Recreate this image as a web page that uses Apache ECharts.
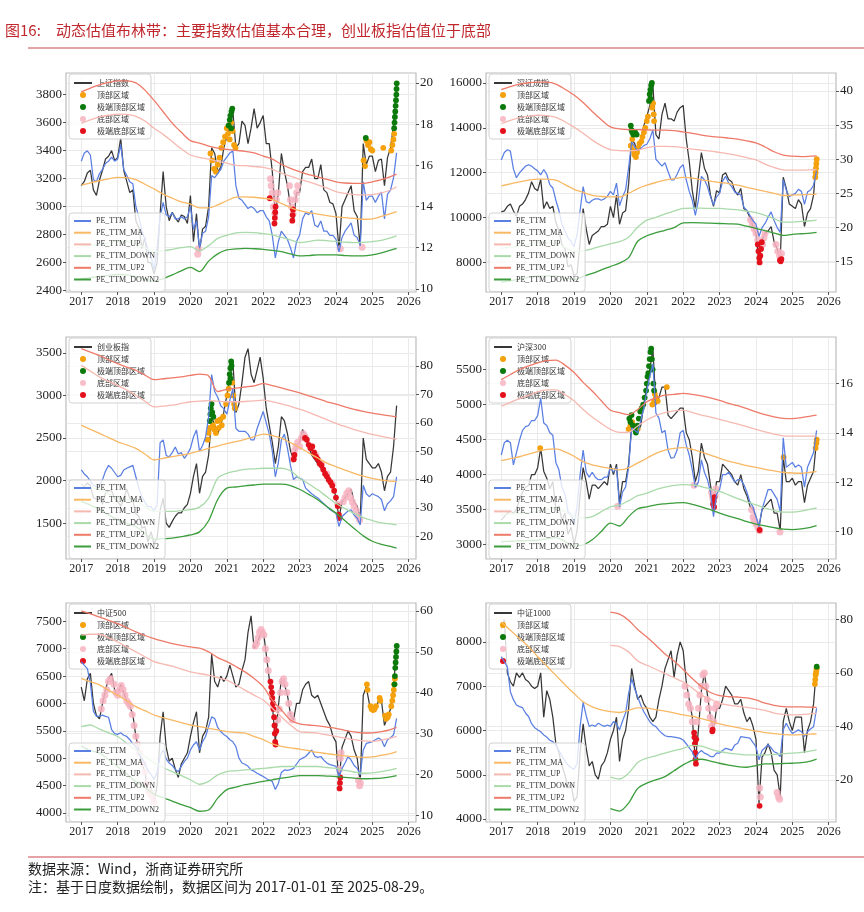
<!DOCTYPE html>
<html><head><meta charset="utf-8">
<script src="https://cdn.jsdelivr.net/npm/echarts@6/dist/echarts.min.js"></script>
<style>html,body{margin:0;padding:0;background:#fff}#c{width:864px;height:912px}</style>
</head><body><div id="c"></div><script>
// ---------- shared axes ----------
const yearTicks = [2017,2018,2019,2020,2021,2022,2023,2024,2025,2026];
const monthX = Array.from({length:105},(_,i)=>2017+i/12);   // monthly observation dates 2017-01 .. 2025-09
const bandX = [2017,2017.25,2017.5,2017.75,2018,2018.25,2018.5,2018.75,2019,2019.25,2019.5,2019.75,2020,2020.25,2020.5,2020.75,2021,2021.25,2021.5,2021.75,2022,2022.25,2022.5,2022.75,2023,2023.25,2023.5,2023.75,2024,2024.25,2024.5,2024.75,2025,2025.25,2025.5,2025.667];
const zoneNames = ['顶部区域','极端顶部区域','底部区域','极端底部区域'];
const bandNames = ['PE_TTM','PE_TTM_MA','PE_TTM_UP','PE_TTM_DOWN','PE_TTM_UP2','PE_TTM_DOWN2'];

// ---------- 上证指数 ----------
const sh_name = '上证指数';
const sh_price = [3150,3180,3240,3260,3120,3080,3190,3260,3340,3360,3400,3330,
 3350,3490,3260,3180,3100,3120,2900,2850,2700,2780,2600,2600,
 2520,2600,2950,3250,3000,2900,2960,2920,2890,2940,2930,2880,
 3080,2750,2950,2680,2840,2860,3000,3420,3380,3250,3280,3420,
 3500,3560,3680,3420,3450,3610,3580,3450,3560,3700,3560,3600,
 3650,3450,3450,3250,2950,3100,3380,3250,3150,3000,2900,3100,
 3100,3250,3280,3280,3340,3200,3200,3300,3120,3100,3030,3020,
 2950,2700,3000,3050,3100,3150,2970,2930,2720,3450,3300,3360,
 3360,3250,3330,3340,3150,3350,3420,3580,3860];
const sh_pe = [16.2,16.6,16.7,16.5,15.3,15.2,15.6,15.8,16.1,16.2,16.4,16.2,
 16.3,17.0,15.8,15.5,15.2,15.1,14.0,13.5,12.8,12.4,11.9,11.6,
 10.9,12.0,13.5,14.2,13.6,13.5,13.7,13.4,13.4,13.5,13.4,13.5,
 14.0,12.9,13.3,12.0,12.7,12.8,13.5,15.5,15.4,15.6,15.8,16.2,
 16.4,16.6,16.7,15.0,14.4,14.3,14.1,13.9,14.0,13.9,13.7,13.8,
 13.8,13.5,13.3,12.6,11.5,12.3,12.8,12.6,12.4,12.0,11.5,12.3,
 12.6,13.4,13.7,13.6,13.8,13.1,13.0,13.3,12.8,12.8,12.6,12.6,
 12.4,11.8,12.5,12.8,13.0,13.2,12.6,12.5,12.1,15.2,14.3,14.5,
 14.5,14.2,14.5,14.7,13.4,14.6,14.8,15.4,16.6];
const sh_up2 = [19.56,19.75,19.9,20.02,20.1,20.1,20.0,19.65,19.15,18.6,18.05,17.6,17.2,17.08,16.93,16.83,16.77,16.72,16.68,16.6,16.45,16.3,16.05,15.85,15.69,15.55,15.44,15.32,15.2,15.14,15.12,15.12,15.2,15.3,15.45,15.57];
const sh_up = [18.03,18.2,18.35,18.43,18.48,18.47,18.38,18.15,17.8,17.5,17.15,16.8,16.5,16.38,16.3,16.2,16.1,16.0,15.98,15.94,15.9,15.8,15.62,15.48,15.32,15.2,15.05,14.9,14.72,14.64,14.58,14.56,14.58,14.66,14.8,14.96];
const sh_ma = [15.04,15.15,15.25,15.34,15.41,15.4,15.3,15.08,14.85,14.6,14.4,14.22,14.12,13.93,13.93,14.08,14.28,14.45,14.47,14.45,14.4,14.33,14.15,13.95,13.8,13.7,13.63,13.56,13.5,13.46,13.42,13.38,13.4,13.52,13.65,13.75];
const sh_down = [12.1,12.12,12.15,12.22,12.3,12.3,12.2,12.0,11.8,11.85,11.92,12.0,12.05,11.85,12.1,12.45,12.6,12.72,12.74,12.73,12.68,12.62,12.5,12.38,12.25,12.3,12.37,12.34,12.3,12.27,12.25,12.26,12.3,12.36,12.48,12.57];
const sh_down2 = [10.5,10.55,10.6,10.66,10.7,10.68,10.6,10.48,10.38,10.5,10.68,10.88,11.05,10.84,11.35,11.7,11.89,11.94,11.97,11.95,11.92,11.87,11.81,11.7,11.6,11.62,11.65,11.65,11.65,11.62,11.6,11.6,11.65,11.75,11.88,11.97];
const sh_top = [[2020.55,3380],[2020.6,3330],[2020.65,3270],[2020.7,3250],[2020.75,3300],[2020.8,3350],[2020.85,3420],[2020.9,3460],[2020.95,3500],[2021.0,3560],[2021.03,3520],[2021.08,3480],[2021.12,3600],[2021.16,3540],[2021.2,3440],[2021.24,3420],[2024.76,3330],[2024.8,3290],[2024.84,3470],[2024.88,3440],[2024.92,3460],[2024.96,3410],[2025.0,3400],[2025.3,3420],[2025.52,3400],[2025.55,3440],[2025.58,3480],[2025.6,3520]];
const sh_xtop = [[2021.05,3580],[2021.08,3620],[2021.1,3650],[2021.13,3680],[2021.15,3700],[2021.12,3560],[2024.82,3490],[2025.6,3560],[2025.61,3600],[2025.62,3640],[2025.63,3680],[2025.64,3720],[2025.65,3760],[2025.66,3800],[2025.665,3840],[2025.67,3880]];
const sh_bot = [[2020.2,2660],[2020.22,2700],[2022.2,3200],[2022.22,3150],[2022.25,3100],[2022.28,3000],[2022.32,2950],[2022.36,3050],[2022.4,3100],[2022.72,3150],[2022.75,3050],[2022.78,3000],[2022.82,2950],[2022.88,3050],[2022.92,3100],[2022.95,3150],[2024.12,2700],[2024.72,2710]];
const sh_xbot = [[2022.18,3060],[2022.31,2880],[2022.32,2920],[2022.33,2960],[2022.34,3000],[2022.8,2900],[2022.81,2940],[2022.82,2980]];
const sh_lticks = [2400,2600,2800,3000,3200,3400,3600,3800];
const sh_rticks = [10,12,14,16,18,20];

// ---------- 深证成指 ----------
const sz_name = '深证成指';
const sz_price = [10250,10300,10500,10600,10300,10050,10500,10600,10800,11100,11600,11300,
 11200,11700,10400,10700,10400,10500,9800,9400,8800,8600,7800,7900,
 7400,7500,8900,10400,9500,8800,9200,9300,9400,9600,9600,9700,
 10500,10000,11000,9700,10200,10300,11500,13500,13300,12800,13400,14100,
 14500,15000,15900,13700,13500,14600,15100,14400,14400,14300,14700,14900,
 15000,13500,12500,11200,10400,11800,12900,12200,11900,11000,10500,11200,
 11100,11900,12000,11700,11600,11200,11000,11300,10400,10300,10000,9600,
 9300,8000,9000,9300,9400,9600,8900,8600,8100,11800,11300,10600,
 10500,10400,10800,10600,9600,10200,10400,11000,12700];
const sz_pe = [29.9,31.0,31.4,31.2,28.6,27.3,28.0,28.5,29.0,29.2,29.0,28.6,
 28.3,27.7,28.5,27.8,26.3,25.8,24.0,22.5,20.5,19.5,18.5,18.0,
 17.2,19.0,22.5,26.0,23.8,23.6,24.0,24.2,24.2,24.0,24.2,24.6,
 25.3,24.8,26.5,23.2,24.5,25.5,28.8,32.5,31.8,31.3,31.6,32.0,
 32.2,33.0,34.3,30.0,29.5,29.0,29.5,28.2,27.0,27.0,27.8,28.8,
 29.2,27.0,25.3,24.0,21.8,24.0,27.5,27.0,26.0,24.5,23.3,24.5,
 25.0,26.8,27.5,26.5,26.0,25.2,25.0,24.8,23.0,22.5,21.8,21.0,
 20.5,18.7,20.0,20.6,21.5,22.3,21.0,20.0,19.3,27.0,25.5,24.5,
 24.8,25.0,25.6,25.3,23.4,25.2,25.5,26.2,28.3];
const sz_up2 = [40.2,40.65,41.0,41.2,41.3,41.28,41.0,40.25,39.4,38.3,37.0,35.8,34.75,34.45,34.35,34.35,34.3,34.26,34.26,34.2,34.0,33.8,33.55,33.35,33.25,33.1,32.95,32.7,32.4,31.8,31.1,30.6,30.45,30.4,30.45,30.5];
const sz_up = [35.2,35.7,36.1,36.3,36.45,36.4,36.15,35.5,34.7,33.8,32.8,32.0,31.4,31.28,31.25,31.35,31.7,31.9,31.9,31.85,31.7,31.5,31.35,31.2,31.0,30.8,30.55,30.25,29.9,29.3,28.8,28.45,28.4,28.4,28.45,28.5];
const sz_ma = [26.1,26.4,26.7,26.95,27.1,27.08,26.95,26.3,25.6,25.15,24.7,24.55,24.5,24.5,25.0,25.7,26.2,26.6,26.95,27.15,27.35,27.25,27.0,26.8,26.6,26.45,26.2,25.9,25.6,25.3,25.0,24.7,24.75,24.8,24.85,24.9];
const sz_down = [17.0,17.1,17.3,17.6,17.75,17.78,17.75,17.1,16.5,16.6,16.9,17.3,17.6,17.95,18.6,20.1,21.1,21.5,22.0,22.4,22.8,22.85,22.85,22.8,22.8,22.7,22.6,22.4,22.2,21.8,21.3,20.8,20.8,20.9,21.0,21.1];
const sz_down2 = [12.0,12.2,12.45,12.7,12.9,12.92,12.9,12.65,12.4,12.85,13.3,13.8,14.3,14.8,15.6,18.0,18.8,19.25,19.6,20.0,20.7,20.72,20.7,20.65,20.6,20.55,20.5,20.2,19.9,19.55,19.2,18.85,19.0,19.1,19.2,19.3];
const sz_top = [[2020.56,13200],[2020.6,13500],[2020.63,13000],[2020.66,12800],[2020.7,12700],[2020.73,12900],[2020.76,13100],[2020.8,13300],[2020.85,13400],[2020.88,13600],[2020.92,13800],[2020.96,14000],[2021.0,14300],[2021.03,14500],[2021.15,14900],[2021.17,15100],[2021.19,14600],[2021.2,14300],[2025.63,11800],[2025.64,12000],[2025.65,12200],[2025.66,12400],[2025.67,12600]];
const sz_xtop = [[2020.56,14100],[2020.58,13900],[2020.6,13800],[2020.63,13700],[2020.68,13800],[2020.72,13700],[2021.06,15200],[2021.08,15500],[2021.1,15700],[2021.12,15900],[2021.14,16000],[2021.1,15300]];
const sz_bot = [[2023.85,9900],[2023.9,9700],[2023.95,9500],[2024.0,9300],[2024.05,9000],[2024.18,8800],[2024.22,9100],[2024.25,9300],[2024.55,8800],[2024.6,8500],[2024.65,8300],[2024.7,8400]];
const sz_xbot = [[2024.05,8800],[2024.07,8500],[2024.09,8200],[2024.1,8000],[2024.12,8300],[2024.14,8600],[2024.16,8900],[2024.66,8100],[2024.68,8050],[2024.7,8150]];
const sz_lticks = [8000,10000,12000,14000,16000];
const sz_rticks = [15,20,25,30,35,40];

// ---------- 创业板指 ----------
const cy_name = '创业板指';
const cy_price = [1960,1930,1970,1940,1800,1780,1810,1720,1850,1880,1880,1790,
 1760,1700,1780,1900,1790,1770,1610,1580,1440,1460,1280,1400,
 1260,1320,1650,1790,1500,1450,1520,1580,1620,1620,1680,1720,
 1850,2050,2200,1850,2050,2100,2300,2750,2650,2550,2650,2800,
 3000,3200,3400,2800,2900,3150,3450,3550,3250,3150,3300,3450,
 3200,2850,2650,2450,2200,2400,2750,2700,2550,2350,2250,2400,
 2450,2600,2500,2400,2300,2250,2200,2150,2100,2050,2000,1950,
 1800,1560,1750,1800,1850,1900,1750,1700,1550,2500,2250,2200,
 2150,2150,2200,2100,1880,2050,2100,2400,2880];
const cy_pe = [43.4,42.0,41.0,39.5,38.0,37.5,38.0,40.0,43.0,45.0,44.0,42.5,
 41.0,41.5,43.4,44.0,44.5,45.0,41.0,37.0,34.0,32.0,30.5,30.5,
 29.0,31.0,53.0,54.0,48.5,48.0,49.5,51.5,49.0,49.5,47.5,49.0,
 51.0,55.0,57.5,50.0,52.0,55.0,62.0,77.0,71.0,69.0,66.0,65.0,
 63.0,68.0,72.0,58.0,57.0,57.0,57.0,56.0,54.0,54.0,58.0,61.0,
 64.0,60.0,56.0,50.0,41.0,46.0,54.0,56.0,51.0,45.0,40.0,41.0,
 40.5,40.0,37.0,36.0,35.0,34.2,33.5,32.5,31.5,30.5,29.5,28.8,
 28.2,23.5,27.0,28.0,29.0,29.4,27.5,26.5,24.0,38.0,35.0,34.0,
 35.0,34.5,34.0,33.0,29.0,31.5,32.5,34.0,41.0];
const cy_up2 = [86.1,84.9,83.7,82.2,80.8,79.6,78.5,76.8,75.2,75.5,75.8,76.2,76.7,77.1,76.5,71.0,71.8,72.2,72.6,73.0,73.8,73.1,72.3,71.4,70.5,69.5,68.5,67.4,66.55,65.6,64.7,64.0,63.4,62.9,62.4,62.1];
const cy_up = [80.2,78.2,76.1,74.6,73.2,71.5,69.7,67.6,65.6,65.9,66.2,66.8,67.4,67.6,67.8,67.6,67.4,67.4,67.5,67.7,68.0,67.4,66.7,65.8,64.8,63.7,62.4,61.1,59.8,58.7,57.6,56.7,55.9,55.2,54.6,54.2];
const cy_ma = [59.2,57.7,56.3,54.8,53.3,52.2,51.0,49.0,46.9,47.5,48.1,48.6,49.2,50.1,51.0,51.8,52.7,53.4,54.2,55.1,56.0,55.5,54.6,53.0,51.3,49.4,47.6,45.8,44.6,43.3,42.2,41.2,40.4,39.8,39.5,39.3];
const cy_down = [38.2,37.3,36.5,35.0,33.4,33.0,32.3,30.5,28.8,28.8,28.8,29.1,29.4,30.3,33.5,40.5,42.2,43.0,43.6,43.8,44.0,44.0,44.0,43.1,40.5,38.5,36.4,34.0,31.7,29.8,28.1,26.6,25.6,24.8,24.4,24.1];
const cy_down2 = [32.3,31.0,29.5,27.6,25.8,24.6,23.5,21.0,19.0,19.2,19.4,19.9,20.5,21.6,25.5,33.0,37.0,37.4,37.8,38.1,38.4,38.4,38.4,37.9,36.6,34.8,32.9,30.5,28.2,25.5,22.8,20.2,18.3,17.2,16.5,15.9];
const cy_top = [[2020.47,2480],[2020.5,2560],[2020.53,2620],[2020.62,2650],[2020.66,2600],[2020.7,2560],[2020.74,2700],[2020.78,2620],[2020.82,2720],[2020.86,2650],[2020.9,2750],[2020.98,2900],[2021.02,3000],[2021.05,3080],[2021.15,3150],[2021.18,3000],[2021.2,2900],[2021.22,2850]];
const cy_xtop = [[2020.53,2700],[2020.55,2780],[2020.56,2850],[2020.58,2900],[2020.6,2800],[2020.63,2750],[2021.06,3150],[2021.08,3250],[2021.1,3320],[2021.12,3400],[2021.1,3200],[2021.13,3350]];
const cy_bot = [[2022.82,2250],[2022.86,2350],[2022.9,2400],[2022.95,2450],[2023.0,2400],[2023.05,2500],[2023.1,2550],[2023.15,2520],[2023.3,2400],[2023.45,2300],[2023.6,2200],[2023.75,2080],[2023.9,1960],[2024.05,1720],[2024.2,1750],[2024.25,1800],[2024.3,1850],[2024.35,1880],[2024.4,1800],[2024.45,1750],[2024.5,1700],[2024.55,1650],[2024.6,1580],[2024.65,1540]];
const cy_xbot = [[2022.84,2250],[2022.86,2300],[2023.15,2500],[2023.2,2480],[2023.25,2420],[2023.3,2380],[2023.35,2400],[2023.4,2330],[2023.45,2280],[2023.5,2250],[2023.55,2200],[2023.6,2180],[2023.65,2130],[2023.7,2080],[2023.75,2050],[2023.8,2010],[2023.85,1980],[2023.9,1940],[2023.95,1880],[2024.0,1800],[2024.05,1700],[2024.08,1600],[2024.1,1560]];
const cy_lticks = [1500,2000,2500,3000,3500];
const cy_rticks = [20,30,40,50,60,70,80];

// ---------- 沪深300 ----------
const hs_name = '沪深300';
const hs_price = [3350,3400,3450,3480,3450,3500,3650,3750,3820,3850,4000,4000,
 4100,4380,4050,3950,3800,3900,3500,3550,3350,3450,3150,3250,
 3000,3200,3700,4100,3900,3650,3850,3850,3800,3850,3900,3850,
 4150,4000,4150,3600,3900,3900,4150,4700,4700,4600,4700,5000,
 5250,5500,5800,5000,5100,5250,5250,4850,4800,4850,4900,4950,
 4950,4600,4500,4250,3900,4050,4450,4250,4150,3850,3600,3900,
 3900,4150,4100,4050,4000,3900,3850,4000,3800,3700,3550,3500,
 3400,3250,3500,3550,3600,3650,3450,3450,3200,4250,3900,3900,
 3950,3850,3900,3900,3600,3850,3950,4050,4500];
const hs_pe = [13.1,13.6,13.7,13.6,12.7,13.2,13.7,14.1,14.25,14.3,14.5,14.5,
 14.7,15.4,14.4,14.3,14.0,13.9,12.8,12.5,11.8,11.5,10.8,10.7,
 10.3,11.0,12.3,13.3,12.4,12.2,12.4,12.2,12.1,12.1,12.2,12.2,
 12.6,12.4,12.6,11.0,11.6,11.8,12.6,14.2,14.1,14.0,14.5,15.0,
 15.7,16.3,16.8,14.8,14.6,14.0,14.1,13.3,12.97,13.0,13.3,14.0,
 14.1,13.5,13.1,12.5,11.8,12.0,12.9,12.4,12.1,11.6,10.6,11.5,
 11.7,12.3,12.3,12.4,12.2,12.0,12.1,12.1,11.9,11.6,11.2,11.0,
 10.6,10.2,10.9,11.3,11.7,11.7,11.5,11.3,10.8,13.8,12.6,12.7,
 12.8,12.6,12.7,12.6,11.8,12.6,12.9,13.2,14.1];
const hs_up2 = [16.16,16.37,16.57,16.72,16.84,16.93,16.95,16.75,16.45,16.05,15.7,15.3,14.92,14.82,14.74,14.95,15.26,15.42,15.53,15.56,15.6,15.56,15.5,15.42,15.32,15.2,15.1,14.98,14.85,14.74,14.65,14.59,14.58,14.62,14.68,14.72];
const hs_up = [15.08,15.24,15.39,15.52,15.66,15.74,15.74,15.55,15.3,14.95,14.64,14.38,14.14,14.02,14.03,14.28,14.52,14.7,14.82,14.89,14.92,14.82,14.72,14.64,14.55,14.45,14.35,14.25,14.14,14.04,13.95,13.88,13.87,13.87,13.87,13.87];
const hs_ma = [12.87,12.95,13.03,13.14,13.24,13.33,13.35,13.23,13.05,12.83,12.7,12.62,12.56,12.5,12.58,12.78,12.97,13.17,13.3,13.37,13.4,13.33,13.22,13.1,12.97,12.85,12.76,12.67,12.6,12.52,12.46,12.4,12.37,12.36,12.4,12.43];
const hs_down = [10.66,10.7,10.72,10.77,10.82,10.9,10.95,10.8,10.6,10.55,10.6,10.8,11.0,11.07,11.25,11.45,11.55,11.7,11.8,11.87,11.9,11.89,11.82,11.72,11.62,11.48,11.33,11.2,11.08,10.95,10.85,10.78,10.78,10.82,10.9,10.95];
const hs_down2 = [9.58,9.6,9.62,9.63,9.64,9.7,9.75,9.6,9.4,9.45,9.66,10.0,10.34,10.22,10.6,10.92,11.0,11.08,11.12,11.15,11.17,11.1,11.0,10.88,10.74,10.62,10.52,10.4,10.3,10.22,10.15,10.09,10.07,10.1,10.16,10.23];
const hs_top = [[2018.07,4380],[2020.5,4650],[2020.55,4700],[2020.6,4750],[2020.75,4650],[2021.15,5000],[2021.2,5050],[2021.22,5150],[2021.25,5100],[2021.3,5050],[2021.55,5250],[2024.76,4250],[2025.64,4380],[2025.66,4450],[2025.67,4500]];
const hs_xtop = [[2020.52,4800],[2020.55,4750],[2020.58,4850],[2020.62,4700],[2020.66,4650],[2020.7,4600],[2020.74,4700],[2020.78,4800],[2020.82,4900],[2020.86,4950],[2020.9,5000],[2020.94,5100],[2020.98,5200],[2021.0,5300],[2021.02,5400],[2021.04,5450],[2021.06,5550],[2021.08,5650],[2021.1,5750],[2021.12,5800],[2021.14,5650],[2021.16,5500],[2021.18,5300],[2021.2,5200]];
const hs_bot = [[2020.2,3550],[2022.3,3850],[2022.78,3750],[2022.8,3700],[2022.82,3650],[2022.88,3700],[2022.9,3800],[2023.88,3500],[2023.92,3400],[2023.95,3350],[2024.0,3300],[2024.05,3250],[2024.1,3200],[2024.66,3180]];
const hs_xbot = [[2022.82,3580],[2022.84,3620],[2022.86,3680],[2022.85,3540],[2024.1,3210]];
const hs_lticks = [3000,3500,4000,4500,5000,5500];
const hs_rticks = [10,12,14,16];

// ---------- 中证500 ----------
const z5_name = '中证500';
const z5_price = [6300,6050,6450,6550,6000,5780,5720,6000,6250,6450,6550,6250,
 6150,6350,6200,6050,5950,5800,5400,5150,4900,4750,4350,4450,
 4200,4500,5400,5850,5200,4950,5000,4800,4650,4900,5000,5100,
 5400,5650,5850,5100,5400,5500,5750,6900,6400,6300,6500,6400,
 6500,6700,6500,6300,6350,6600,6800,7300,7600,7000,7100,7250,
 7350,6900,6450,6000,5300,5950,6450,6350,6150,5800,5700,6000,
 6000,6250,6350,6400,6150,6100,6150,6000,5850,5700,5600,5400,
 5300,4550,5200,5350,5500,5400,5150,5000,4550,6150,6300,6000,
 5900,5850,6050,6050,5600,5750,5900,6300,7050];
const z5_pe = [47.6,46.7,45.9,42.3,35.5,34.2,34.2,34.5,34.2,34.0,31.0,30.0,
 29.8,30.2,29.6,29.3,28.5,27.5,26.8,25.0,24.0,22.5,21.0,20.0,
 18.8,20.5,24.5,26.0,23.8,22.8,22.2,21.2,20.7,22.0,23.2,24.0,
 26.0,27.2,28.0,26.0,28.0,29.3,31.7,34.1,33.7,31.5,30.5,29.8,
 29.3,28.5,28.0,26.8,24.0,22.8,22.5,22.0,21.1,20.8,20.3,19.9,
 19.5,19.0,18.6,18.3,16.3,17.8,20.5,21.1,21.0,21.2,21.5,22.5,
 23.6,24.0,24.4,25.2,26.0,24.5,24.2,24.4,23.5,22.8,22.4,22.2,
 22.0,19.5,21.5,22.8,24.4,23.5,22.2,21.5,19.9,26.0,27.6,27.8,
 28.0,28.5,28.9,28.5,26.8,28.5,29.0,29.7,33.7];
const z5_up2 = [60.0,59.3,58.5,57.7,56.9,55.9,54.9,54.0,53.25,52.6,52.0,51.6,51.2,50.9,50.0,48.6,47.6,46.4,45.1,43.5,41.5,38.2,35.8,33.3,32.35,32.1,31.9,31.6,31.3,30.8,30.4,30.15,30.2,30.5,31.0,31.5];
const z5_up = [54.1,54.3,54.3,53.4,52.4,51.2,50.0,48.8,47.6,47.0,46.5,45.8,45.1,44.7,44.3,43.7,43.1,41.9,40.65,39.4,38.2,36.2,34.1,32.1,30.5,30.3,30.1,29.7,29.3,28.9,28.5,28.2,28.1,28.4,28.9,29.3];
const z5_ma = [43.5,42.7,41.9,40.6,39.4,38.0,36.6,35.6,34.55,33.9,33.3,32.7,32.1,31.7,31.3,30.9,30.5,30.3,30.1,29.3,28.5,27.5,26.9,26.5,26.2,25.8,25.4,25.1,24.8,24.55,24.35,24.2,24.3,24.7,25.1,25.6];
const z5_down = [31.7,32.1,31.1,30.2,29.3,27.6,26.0,24.4,22.8,21.7,20.7,19.7,18.7,17.6,18.3,19.9,20.7,20.9,21.1,21.3,21.5,21.7,21.95,21.95,21.95,21.95,21.95,21.7,21.5,21.0,20.6,20.3,20.4,20.7,21.1,21.5];
const z5_down2 = [27.0,25.8,25.3,23.6,21.9,20.1,18.3,16.8,15.2,14.3,13.5,12.6,11.9,11.0,11.3,14.2,16.3,16.9,17.5,17.9,18.3,18.7,19.1,19.4,19.7,19.7,19.7,19.6,19.5,19.3,19.1,18.95,19.0,19.1,19.4,19.7];
const z5_top = [[2024.85,6350],[2024.87,6250],[2024.95,5950],[2024.98,5900],[2025.02,5880],[2025.06,5900],[2025.1,5950],[2025.2,6100],[2025.22,6050],[2025.35,5780],[2025.38,5720],[2025.42,5750],[2025.45,5800],[2025.52,5950],[2025.55,6050],[2025.57,6150],[2025.59,6250],[2025.6,6350],[2025.62,6450]];
const z5_xtop = [[2025.61,6350],[2025.62,6500],[2025.63,6650],[2025.64,6750],[2025.65,6850],[2025.66,6950],[2025.67,7050]];
const z5_bot = [[2017.55,5900],[2017.6,6050],[2017.65,6150],[2017.7,6250],[2017.75,6400],[2017.8,6450],[2017.9,6350],[2017.95,6200],[2018.0,6150],[2018.05,6250],[2018.1,6330],[2018.15,6250],[2018.2,6150],[2018.25,6050],[2018.3,6000],[2018.35,5950],[2018.4,5800],[2018.45,5600],[2018.5,5400],[2018.55,5250],[2018.6,5100],[2018.7,4900],[2018.75,4750],[2018.8,4550],[2018.85,4400],[2018.9,4350],[2018.95,4300],[2019.0,4200],[2021.78,7050],[2021.82,7100],[2021.86,7200],[2021.9,7300],[2021.94,7350],[2021.98,7300],[2022.02,7250],[2022.06,7000],[2022.1,6800],[2022.14,6600],[2022.4,5700],[2022.44,5900],[2022.48,6200],[2022.52,6400],[2022.56,6450],[2022.6,6350],[2022.65,6200],[2022.7,6000],[2022.75,5800],[2022.8,5700],[2024.1,4800],[2024.12,5000],[2024.14,5100],[2024.62,4600],[2024.65,4500],[2024.67,4550]];
const z5_xbot = [[2022.2,6400],[2022.22,6300],[2022.24,6200],[2022.25,6100],[2022.27,6000],[2022.28,5900],[2022.3,5750],[2022.31,5600],[2022.32,5450],[2022.33,5300],[2022.34,5250],[2022.36,5500],[2024.1,4450],[2024.11,4550],[2024.12,4650]];
const z5_lticks = [4000,4500,5000,5500,6000,6500,7000,7500];
const z5_rticks = [10,20,30,40,50,60];

// ---------- 中证1000 ----------
const z1_name = '中证1000';
const z1_price = [8300,8500,7300,7100,7000,7300,7200,7300,7150,7100,7000,6950,
 7000,7300,6300,6900,6700,6300,5700,5500,5200,5000,4700,4800,
 4400,4500,5500,6150,5600,5200,5300,5000,4900,5200,5300,5500,
 5800,6000,6300,5300,5800,6000,6500,7400,7000,6700,6800,6600,
 6500,6300,6200,6300,6700,7000,7400,7600,7800,7200,7700,8000,
 7800,7100,6700,6300,5300,6000,6900,7300,6800,6300,6000,6500,
 6500,6700,7000,6900,6800,6600,6600,6700,6400,6200,6300,6100,
 5800,4350,5400,5500,5700,5500,5100,5000,4500,6200,6500,6200,
 6000,6300,6300,6300,5500,6000,6200,6600,7450];
const z1_pe = [66.1,64.2,62.3,53.0,50.0,48.0,47.4,47.0,45.0,43.7,41.0,39.5,
 38.7,38.0,36.8,36.0,34.8,34.3,33.0,31.0,29.0,27.0,25.5,24.5,
 24.0,26.0,40.0,49.0,44.0,40.0,40.5,40.0,41.2,40.5,40.0,40.5,
 40.0,41.8,41.0,38.7,42.0,45.0,52.4,58.0,54.0,51.0,48.0,45.5,
 43.6,41.8,40.5,39.9,38.5,37.4,36.5,36.2,36.2,36.0,35.8,35.5,
 34.9,33.5,32.0,30.5,27.5,30.0,31.0,30.0,29.5,28.7,28.7,30.0,
 30.0,31.0,31.8,31.5,31.0,33.0,33.7,36.2,36.0,35.8,35.6,34.0,
 32.4,27.5,31.0,32.0,33.1,32.0,30.5,30.0,28.7,38.7,41.2,39.0,
 37.4,38.0,38.7,38.0,36.2,38.0,39.0,39.9,46.8];
const z1_up2 = [null,null,null,null,null,null,null,null,null,null,null,null,82.8,82.0,79.75,76.3,73.5,70.4,67.1,64.5,61.3,57.9,54.9,52.7,51.5,51.1,51.0,50.7,49.9,48.7,47.9,47.4,47.3,47.3,47.2,47.1];
const z1_up = [null,null,null,null,null,null,null,null,null,null,null,null,70.3,69.9,67.9,64.5,62.9,61.4,59.8,58.2,56.6,54.4,51.7,50.2,48.6,48.0,47.5,47.15,46.6,46.0,45.0,44.5,44.3,44.4,44.7,44.9];
const z1_ma = [79.1,76.0,72.9,69.8,66.1,62.6,59.1,55.6,52.3,49.2,47.3,46.2,45.5,45.2,46.0,46.9,46.8,46.3,45.7,45.1,44.3,43.8,42.9,42.0,40.9,40.2,39.5,38.9,38.2,37.7,37.3,37.0,36.8,36.9,37.1,37.2];
const z1_down = [null,null,null,null,null,null,null,null,null,null,null,null,21.0,20.3,22.5,26.5,28.1,29.0,30.0,30.9,31.8,32.9,32.6,31.5,30.6,30.0,29.6,29.3,29.3,29.3,29.5,29.8,30.0,30.3,30.8,31.2];
const z1_down2 = [null,null,null,null,null,null,null,null,null,null,null,null,9.2,8.3,11.3,16.8,18.75,20.0,21.2,23.4,25.6,27.3,27.7,27.0,26.2,25.5,24.9,24.7,25.3,26.0,26.0,26.1,26.2,26.4,27.0,27.7];
const z1_top = [[2025.62,7050],[2025.63,7150],[2025.64,7250],[2025.65,7300],[2025.66,7350],[2025.67,7400]];
const z1_xtop = [[2025.67,7440]];
const z1_bot = [[2022.05,7000],[2022.1,6800],[2022.15,6600],[2022.2,6500],[2022.25,6200],[2022.38,6200],[2022.42,6500],[2022.46,6800],[2022.5,7000],[2022.54,7250],[2022.58,7300],[2022.62,7000],[2022.66,6700],[2022.7,6500],[2022.74,6300],[2022.78,6100],[2022.84,6200],[2022.88,6500],[2022.92,6600],[2024.1,4700],[2024.12,4500],[2024.58,4600],[2024.62,4500],[2024.65,4450]];
const z1_xbot = [[2022.3,5950],[2022.31,5850],[2022.32,5700],[2022.33,5500],[2022.34,5350],[2022.35,5250],[2022.36,5800],[2022.8,5980],[2022.81,6020],[2024.1,4300]];
const z1_lticks = [4000,5000,6000,7000,8000];
const z1_rticks = [20,40,60,80];

// ---------- assembly ----------
const panels = [
 {name:sh_name, price:sh_price, pe:sh_pe, ma:sh_ma, up:sh_up, down:sh_down, up2:sh_up2, down2:sh_down2, zones:[sh_top,sh_xtop,sh_bot,sh_xbot], lt:sh_lticks, rt:sh_rticks},
 {name:sz_name, price:sz_price, pe:sz_pe, ma:sz_ma, up:sz_up, down:sz_down, up2:sz_up2, down2:sz_down2, zones:[sz_top,sz_xtop,sz_bot,sz_xbot], lt:sz_lticks, rt:sz_rticks},
 {name:cy_name, price:cy_price, pe:cy_pe, ma:cy_ma, up:cy_up, down:cy_down, up2:cy_up2, down2:cy_down2, zones:[cy_top,cy_xtop,cy_bot,cy_xbot], lt:cy_lticks, rt:cy_rticks},
 {name:hs_name, price:hs_price, pe:hs_pe, ma:hs_ma, up:hs_up, down:hs_down, up2:hs_up2, down2:hs_down2, zones:[hs_top,hs_xtop,hs_bot,hs_xbot], lt:hs_lticks, rt:hs_rticks},
 {name:z5_name, price:z5_price, pe:z5_pe, ma:z5_ma, up:z5_up, down:z5_down, up2:z5_up2, down2:z5_down2, zones:[z5_top,z5_xtop,z5_bot,z5_xbot], lt:z5_lticks, rt:z5_rticks},
 {name:z1_name, price:z1_price, pe:z1_pe, ma:z1_ma, up:z1_up, down:z1_down, up2:z1_up2, down2:z1_down2, zones:[z1_top,z1_xtop,z1_bot,z1_xbot], lt:z1_lticks, rt:z1_rticks}
];
const layout = [
 {left:66, top:73, width:350, height:219, lmin:2391, lmax:3954, rmin:9.85, rmax:20.48},
 {left:486, top:73, width:350, height:219, lmin:6681, lmax:16444, rmin:10.57, rmax:42.63},
 {left:66, top:337, width:350, height:222, lmin:1078, lmax:3687, rmin:12.05, rmax:90.2},
 {left:486, top:337, width:350, height:222, lmin:2796, lmax:5965, rmin:8.88, rmax:17.89},
 {left:66, top:603, width:350, height:219, lmin:3837, lmax:7834, rmin:8.37, rmax:61.95},
 {left:486, top:603, width:350, height:219, lmin:3934, lmax:8878, rmin:4.2, rmax:86.2}
];
const X_MIN = 2016.58, X_MAX = 2026.2;
const C = {price:'rgba(20,20,20,0.85)', pe:'#5a7fe3', ma:'#f8b864', up:'#f6b9b1', up2:'#ee7a69', down:'#a9daa9', down2:'#3b9d3b',
  zone:['#f5a10c','#0b7a0b','#f7b3c1','#e3111b']};
const serif = 'Liberation Serif';
const cjk = 'Noto Sans CJK SC';
const gridLine = {show:true, lineStyle:{color:'#e4e4e4', width:0.8}};

const grids=[], xAxes=[], yAxes=[], series=[], legends=[];
panels.forEach((p,i)=>{
  const L = layout[i];
  grids.push({left:L.left, top:L.top, width:L.width, height:L.height, show:true, borderColor:'#bcbcbc', borderWidth:1.2, backgroundColor:'rgba(0,0,0,0)'});
  xAxes.push({type:'value', gridIndex:i, min:X_MIN, max:X_MAX,
    axisLine:{show:false},
    axisTick:{show:true, customValues:yearTicks, length:3, lineStyle:{color:'#555'}},
    axisLabel:{customValues:yearTicks, formatter:v=>String(Math.round(v)), fontFamily:serif, fontSize:12, color:'#222', margin:4},
    splitLine:Object.assign({customValues:yearTicks}, gridLine)});
  yAxes.push({type:'value', gridIndex:i, position:'left', min:L.lmin, max:L.lmax,
    axisLine:{show:false},
    axisTick:{show:true, customValues:p.lt, length:3, lineStyle:{color:'#555'}},
    axisLabel:{customValues:p.lt, formatter:v=>String(v), fontFamily:serif, fontSize:13, color:'#222', margin:4},
    splitLine:Object.assign({customValues:p.lt}, gridLine)});
  yAxes.push({type:'value', gridIndex:i, position:'right', min:L.rmin, max:L.rmax,
    axisLine:{show:false},
    axisTick:{show:true, customValues:p.rt, length:3, lineStyle:{color:'#555'}},
    axisLabel:{customValues:p.rt, formatter:v=>String(v), fontFamily:serif, fontSize:13, color:'#222', margin:4},
    splitLine:Object.assign({customValues:p.rt}, gridLine)});
  const yl = 2*i, yr = 2*i+1;
  series.push({type:'line', name:p.name, xAxisIndex:i, yAxisIndex:yl, data:monthX.map((x,k)=>[x,p.price[k]]),
    symbol:'none', lineStyle:{color:C.price, width:1.25}, itemStyle:{color:C.price, opacity:0}, z:1, silent:true});
  p.zones.forEach((pts,k)=>{
    series.push({type:'scatter', name:zoneNames[k], xAxisIndex:i, yAxisIndex:yl, data:pts,
      symbol:'circle', symbolSize:(k===2?7:5.8), itemStyle:{color:C.zone[k], opacity:(k===2?0.85:1)}, z:1, silent:true});
  });
  series.push({type:'line', name:'PE_TTM', xAxisIndex:i, yAxisIndex:yr, data:monthX.map((x,k)=>[x,p.pe[k]]),
    symbol:'none', lineStyle:{color:C.pe, width:1.25}, itemStyle:{color:C.pe, opacity:0}, z:3, silent:true});
  [['PE_TTM_MA',p.ma,C.ma],['PE_TTM_UP',p.up,C.up],['PE_TTM_DOWN',p.down,C.down],['PE_TTM_UP2',p.up2,C.up2],['PE_TTM_DOWN2',p.down2,C.down2]].forEach(b=>{
    series.push({type:'line', name:b[0], xAxisIndex:i, yAxisIndex:yr, data:bandX.map((x,k)=>[x,b[1][k]]),
      symbol:'none', smooth:0.3, lineStyle:{color:b[2], width:1.3}, itemStyle:{color:b[2], opacity:0}, z:3, silent:true});
  });
  legends.push({orient:'vertical', left:L.left+3, top:L.top+1, z:2, selectedMode:false,
    data:[p.name].concat(zoneNames), itemWidth:18, itemHeight:6, itemGap:4,
    textStyle:{fontSize:8, lineHeight:8, fontFamily:cjk, color:'#333'},
    backgroundColor:'rgba(255,255,255,0.8)', borderColor:'#d2d2d2', borderWidth:1, borderRadius:3, padding:[5,6,4,4]});
  legends.push({orient:'vertical', left:L.left+3, top:L.top+L.height-79, z:4, selectedMode:false,
    data:bandNames, itemWidth:17, itemHeight:8, itemGap:3.7,
    textStyle:{fontSize:8, lineHeight:8, fontFamily:serif, color:'#333'},
    backgroundColor:'rgba(255,255,255,0.8)', borderColor:'#d2d2d2', borderWidth:1, borderRadius:3, padding:[4,6,8,4]});
});

const chart = echarts.init(document.getElementById('c'), null, {renderer:'canvas'});
chart.setOption({
  animation:false,
  backgroundColor:'#ffffff',
  title:[
    {text:'图16:', left:5, top:23, padding:0, textStyle:{color:'#c0282e', fontSize:15, fontWeight:'normal', fontFamily:cjk}},
    {text:'动态估值布林带：主要指数估值基本合理，创业板指估值位于底部', left:56, top:23, padding:0, textStyle:{color:'#c0282e', fontSize:15, fontWeight:'normal', fontFamily:cjk}},
    {text:'数据来源：Wind，浙商证券研究所', left:28, top:862, padding:0, textStyle:{color:'#222', fontSize:14, fontWeight:'normal', fontFamily:cjk}},
    {text:'注：基于日度数据绘制，数据区间为 2017-01-01 至 2025-08-29。', left:28, top:880, padding:0, textStyle:{color:'#222', fontSize:14, fontWeight:'normal', fontFamily:cjk}}
  ],
  graphic:[
    {type:'line', shape:{x1:28,y1:48,x2:864,y2:48}, style:{stroke:'#c8474a', lineWidth:1}},
    {type:'line', shape:{x1:28,y1:857,x2:864,y2:857}, style:{stroke:'#c8474a', lineWidth:1}}
  ],
  grid:grids, xAxis:xAxes, yAxis:yAxes, legend:legends, series:series
});
</script></body></html>
